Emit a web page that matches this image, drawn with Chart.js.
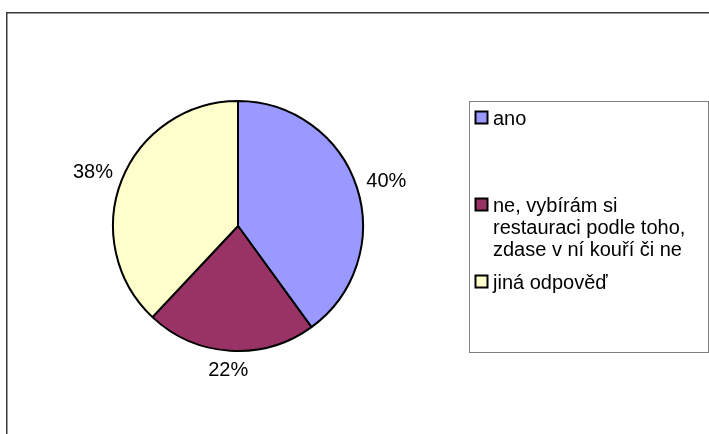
<!DOCTYPE html>
<html>
<head>
<meta charset="utf-8">
<script src="https://cdn.jsdelivr.net/npm/chart.js@4.4.1/dist/chart.umd.min.js"></script>
<style>
  html, body { margin: 0; padding: 0; background: #ffffff; }
  #wrap { position: relative; width: 709px; height: 434px; }
</style>
</head>
<body>
<div id="wrap"><canvas id="c"></canvas></div>
<script>
// ---- data ----
const categories = [
  "ano",
  ["ne, vybírám si", "restauraci podle toho,", "zdase v ní kouří či ne"],
  "jiná odpověď"
];
const values = [40, 22, 38];
const sliceColors = ["#9999FF", "#993366", "#FFFFCC"];

const FONT = '20px "Liberation Sans", Arial, sans-serif';

const decorPlugin = {
  id: 'decor',
  beforeDraw(chart) {
    const ctx = chart.ctx;
    ctx.save();
    // outer frame (left + top visible)
    ctx.strokeStyle = '#3a3a3a';
    ctx.lineWidth = 1.5;
    ctx.beginPath();
    ctx.moveTo(6.75, 440);
    ctx.lineTo(6.75, 12.75);
    ctx.lineTo(720, 12.75);
    ctx.stroke();
    // legend box
    ctx.strokeStyle = '#808080';
    ctx.lineWidth = 1;
    ctx.strokeRect(469.5, 101.5, 239, 251);
    ctx.restore();
  },
  afterDraw(chart) {
    const ctx = chart.ctx;
    const meta = chart.getDatasetMeta(0);
    const ds = chart.data.datasets[0];
    const total = ds.data.reduce((a, b) => a + b, 0);
    ctx.save();
    ctx.font = FONT;
    ctx.fillStyle = '#000000';
    ctx.textAlign = 'center';
    ctx.textBaseline = 'middle';
    // percentage labels outside the pie
    meta.data.forEach((arc, i) => {
      const p = arc.getProps(['x', 'y', 'startAngle', 'endAngle', 'outerRadius'], true);
      const mid = (p.startAngle + p.endAngle) / 2;
      const ux = Math.cos(mid), uy = Math.sin(mid);
      const txt = Math.round(ds.data[i] / total * 100) + '%';
      const w = ctx.measureText(txt).width;
      const r = p.outerRadius + 11;
      const cx = p.x + ux * r + ux * w / 2;
      const cy = p.y + uy * r + uy * 9;
      ctx.fillText(txt, cx, cy);
    });
    // legend
    const itemTops = [111, 198, 275];
    const swX = 475.5, sw = 12, textX = 493, lineH = 22;
    ctx.textAlign = 'left';
    ctx.textBaseline = 'alphabetic';
    chart.data.labels.forEach((lab, i) => {
      const top = itemTops[i];
      ctx.fillStyle = ds.backgroundColor[i];
      ctx.fillRect(swX, top + 0.5, sw, sw);
      ctx.strokeStyle = '#000000';
      ctx.lineWidth = 2;
      ctx.strokeRect(swX, top + 0.5, sw, sw);
      ctx.fillStyle = '#000000';
      const lines = Array.isArray(lab) ? lab : [lab];
      lines.forEach((ln, k) => {
        ctx.fillText(ln, textX, top + 14 + k * lineH);
      });
    });
    ctx.restore();
  }
};

new Chart(document.getElementById('c'), {
  type: 'pie',
  data: {
    labels: categories,
    datasets: [{
      data: values,
      backgroundColor: sliceColors,
      borderColor: '#000000',
      borderWidth: 2
    }]
  },
  options: {
    responsive: true,
    maintainAspectRatio: false,
    animation: false,
    layout: { padding: { left: 112, right: 345, top: 100, bottom: 82 } },
    plugins: {
      legend: { display: false },
      tooltip: { enabled: false }
    }
  },
  plugins: [decorPlugin]
});
</script>
</body>
</html>
